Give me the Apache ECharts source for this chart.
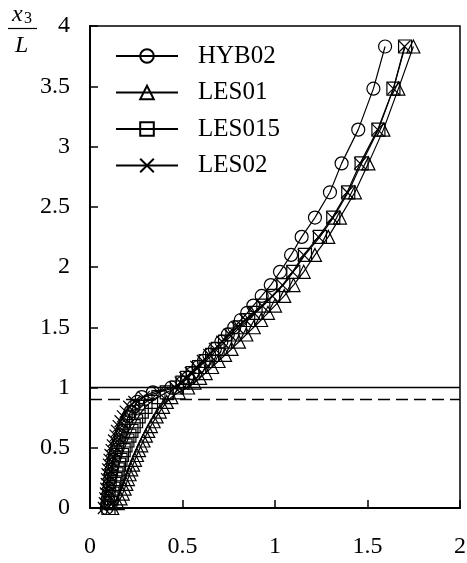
<!DOCTYPE html>
<html>
<head>
<meta charset="utf-8">
<script src="https://cdn.jsdelivr.net/npm/echarts@6/dist/echarts.min.js"></script>
<style>
html, body { margin: 0; padding: 0; background: #fff; }
#chart { width: 467px; height: 563px; }
</style>
</head>
<body>
<div id="chart"></div>
<script>
// heights x3/L shared by all runs
const heights = [0, 0.04, 0.08, 0.12, 0.16, 0.20, 0.24, 0.28, 0.32, 0.36, 0.40, 0.44, 0.48,
  0.52, 0.56, 0.60, 0.64, 0.68, 0.72, 0.76, 0.80, 0.84, 0.88, 0.92, 0.96, 1.00, 1.04, 1.08,
  1.12, 1.17, 1.22, 1.27, 1.32, 1.38, 1.44, 1.50, 1.56, 1.62, 1.68, 1.76, 1.85, 1.96, 2.10,
  2.25, 2.41, 2.62, 2.86, 3.14, 3.48, 3.83];

const hyb02 = [0.090, 0.095, 0.098, 0.101, 0.104, 0.107, 0.110, 0.114, 0.118, 0.123, 0.128,
  0.134, 0.141, 0.148, 0.156, 0.165, 0.174, 0.184, 0.195, 0.207, 0.220, 0.236, 0.255, 0.280,
  0.340, 0.440, 0.500, 0.530, 0.555, 0.585, 0.615, 0.645, 0.675, 0.710, 0.745, 0.780, 0.815,
  0.850, 0.883, 0.928, 0.977, 1.027, 1.087, 1.144, 1.216, 1.297, 1.360, 1.450, 1.532, 1.595];

const les01 = [0.120, 0.150, 0.165, 0.177, 0.187, 0.196, 0.205, 0.214, 0.223, 0.233, 0.243,
  0.254, 0.265, 0.277, 0.289, 0.302, 0.315, 0.329, 0.344, 0.360, 0.377, 0.395, 0.415, 0.440,
  0.480, 0.530, 0.565, 0.595, 0.625, 0.660, 0.695, 0.730, 0.765, 0.805, 0.845, 0.885, 0.925,
  0.962, 1.000, 1.050, 1.100, 1.155, 1.216, 1.288, 1.351, 1.432, 1.505, 1.586, 1.667, 1.748];

const les015 = [0.100, 0.110, 0.116, 0.121, 0.126, 0.131, 0.137, 0.143, 0.150, 0.157, 0.165,
  0.173, 0.182, 0.192, 0.202, 0.213, 0.224, 0.236, 0.249, 0.263, 0.280, 0.300, 0.330, 0.370,
  0.415, 0.470, 0.500, 0.525, 0.555, 0.590, 0.625, 0.660, 0.690, 0.730, 0.770, 0.810, 0.855,
  0.895, 0.937, 0.990, 1.045, 1.099, 1.162, 1.243, 1.315, 1.396, 1.468, 1.559, 1.640, 1.703];

const les02 = [0.075, 0.080, 0.083, 0.086, 0.088, 0.090, 0.092, 0.095, 0.098, 0.102, 0.106,
  0.111, 0.117, 0.123, 0.130, 0.138, 0.146, 0.155, 0.165, 0.178, 0.193, 0.212, 0.240, 0.290,
  0.370, 0.460, 0.490, 0.515, 0.545, 0.575, 0.610, 0.645, 0.675, 0.715, 0.755, 0.795, 0.840,
  0.885, 0.930, 0.985, 1.040, 1.095, 1.155, 1.235, 1.310, 1.390, 1.460, 1.555, 1.640, 1.700];

const seriesNames = ['HYB02', 'LES01', 'LES015', 'LES02'];
const seriesValues = [hyb02, les01, les015, les02];
const seriesSymbols = ['circle', 'triangle', 'rect', 'path://M0 0L10 10M10 0L0 10'];
const xTicks = [0, 0.5, 1, 1.5, 2];
const yTicks = [0, 0.5, 1, 1.5, 2, 2.5, 3, 3.5, 4];
const refLevels = [1.0, 0.9]; // solid, dashed

const font = "'Liberation Serif', 'Times New Roman', serif";
const chart = echarts.init(document.getElementById('chart'));

const series = seriesNames.map((name, i) => ({
  name,
  type: 'line',
  data: seriesValues[i].map((v, j) => [v, heights[j]]),
  symbol: seriesSymbols[i],
  symbolSize: i === 3 ? 12 : 13,
  showAllSymbol: true,
  lineStyle: { color: '#000', width: 1.2 },
  itemStyle: { color: 'transparent', borderColor: '#000', borderWidth: 1.2 },
  z: 3,
}));

series[0].markLine = {
  silent: true,
  symbol: ['none', 'none'],
  label: { show: false },
  data: [
    { yAxis: refLevels[0], lineStyle: { color: '#000', width: 1.3, type: 'solid' } },
    { yAxis: refLevels[1], lineStyle: { color: '#000', width: 1.3, type: [12, 6] } },
  ],
};

const legendTops = [43.5, 80, 116.5, 153];

chart.setOption({
  animation: false,
  backgroundColor: '#fff',
  grid: {
    left: 90, right: 7, top: 26, bottom: 55,
    show: true, borderColor: '#000', borderWidth: 1.5,
    outerBoundsMode: 'none',
  },
  legend: seriesNames.map((name, i) => ({
    data: [name],
    left: 115,
    top: legendTops[i],
    padding: 0,
    itemWidth: 62,
    itemHeight: 17,
    selectedMode: false,
    textStyle: { fontFamily: font, fontSize: 25, color: '#000', padding: [0, 0, 0, 15] },
  })),
  xAxis: {
    type: 'value',
    min: xTicks[0],
    max: xTicks[xTicks.length - 1],
    interval: 0.5,
    axisLine: { show: true, lineStyle: { color: '#000', width: 2 } },
    axisTick: { show: true, inside: true, length: 8, lineStyle: { color: '#000', width: 1.5 } },
    splitLine: { show: false },
    axisLabel: { color: '#000', fontFamily: font, fontSize: 24, margin: 27 },
  },
  yAxis: {
    type: 'value',
    min: yTicks[0],
    max: yTicks[yTicks.length - 1],
    interval: 0.5,
    axisLine: { show: true, lineStyle: { color: '#000', width: 2 } },
    axisTick: { show: true, inside: true, length: 8, lineStyle: { color: '#000', width: 1.5 } },
    splitLine: { show: false },
    axisLabel: { color: '#000', fontFamily: font, fontSize: 24, margin: 20 },
  },
  graphic: [
    { type: 'text', left: 12, top: 3, style: { text: 'x', font: 'italic 24px ' + font, fill: '#000' } },
    { type: 'text', left: 24, top: 11, style: { text: '3', font: '16px ' + font, fill: '#000' } },
    { type: 'line', shape: { x1: 8, y1: 28.5, x2: 37, y2: 28.5 }, style: { stroke: '#000', lineWidth: 1.2 } },
    { type: 'text', left: 15, top: 34, style: { text: 'L', font: 'italic 24px ' + font, fill: '#000' } },
  ],
  series,
});
</script>
</body>
</html>
